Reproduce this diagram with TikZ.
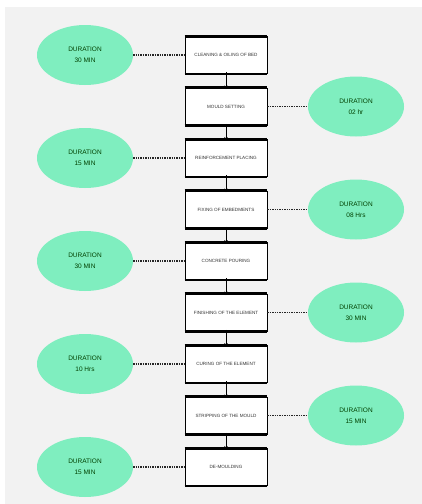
\documentclass[tikz,border=0pt]{standalone}
\usepackage{fontspec}
\setmainfont{Liberation Sans}
\usetikzlibrary{arrows.meta,shapes.geometric}
\definecolor{panel}{HTML}{F2F2F2}
\definecolor{mint}{HTML}{7FEEBF}
\definecolor{boxtext}{HTML}{333333}
\tikzset{
  stepbox/.style={draw=black, line width=0.6pt, fill=white, minimum width=82pt, minimum height=37pt, inner sep=1pt, font=\fontsize{4.6}{5.5}\selectfont, text=boxtext, align=center},
  dur/.style={ellipse, fill=mint, draw=none, minimum width=96pt, minimum height=60pt, inner sep=0pt, font=\fontsize{6.5}{11}\selectfont, text=black!75!green, align=center},
  link/.style={densely dotted, line width=1.4pt, black!85},
  flow/.style={-{Stealth[length=3.5pt,width=3.5pt]}, line width=0.6pt}
}
\begin{document}
\begin{tikzpicture}[x=1pt,y=-1pt]
\useasboundingbox (0,0) rectangle (422,504);
\fill[white] (0,0) rectangle (422,504);
\fill[panel] (5,7) rectangle (422,504);
\foreach \i/\t in {1/CLEANING \& OILING OF BED,2/MOULD SETTING,3/REINFORCEMENT PLACING,4/FIXING OF EMBEDMENTS,5/CONCRETE POURING,6/FINISHING OF THE ELEMENT,7/CURING OF THE ELEMENT,8/STRIPPING OF THE MOULD,9/DE-MOULDING}{
  \node[stepbox] (b\i) at (226,{55+(\i-1)*51.5}) {\t};
  \draw[line width=2.6pt] (b\i.north west) -- (b\i.north east);
  \draw[line width=2.6pt] (b\i.south west) -- (b\i.south east);
}
\foreach \i/\t in {1/30 MIN,3/15 MIN,5/30 MIN,7/10 Hrs,9/15 MIN}{
  \node[dur] (d\i) at (85,{55+(\i-1)*51.5}) {DURATION\\\t};
  \draw[link] (d\i.east) -- (b\i.west);
}
\foreach \i/\t in {2/02 hr,4/08 Hrs,6/30 MIN,8/15 MIN}{
  \node[dur] (d\i) at (356,{55+(\i-1)*51.5}) {DURATION\\\t};
  \draw[link] (b\i.east) -- (d\i.west);
}
\foreach \i [evaluate=\i as \j using int(\i+1)] in {1,...,8}{
  \draw[flow] ([yshift=1.4pt]b\i.south) -- ([yshift=-1.4pt]b\j.north);
}
\end{tikzpicture}
\end{document}
